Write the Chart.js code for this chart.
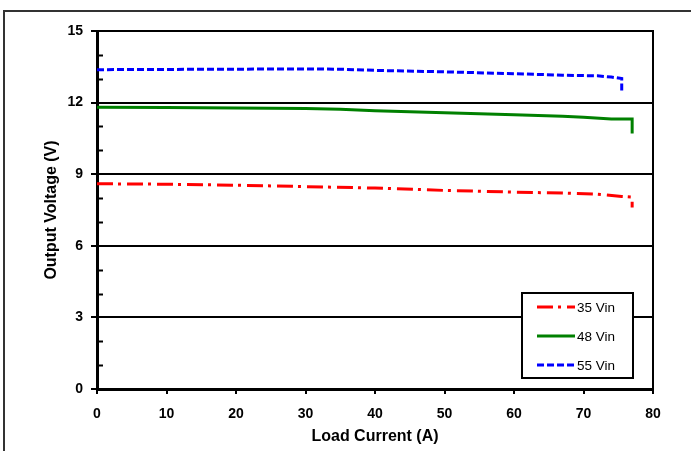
<!DOCTYPE html>
<html>
<head>
<meta charset="utf-8">
<script src="https://cdn.jsdelivr.net/npm/chart.js@4.4.1/dist/chart.umd.min.js"></script>
<style>
  html, body { margin: 0; padding: 0; background: #fff; }
  canvas { display: block; }
</style>
</head>
<body>
<canvas id="vout" width="691" height="451"></canvas>
<script>
// Output voltage vs load current, one curve per input voltage
const seriesNames = ['35 Vin', '48 Vin', '55 Vin'];

const loadA_35 = [0, 10, 20, 30, 40, 50, 60, 67, 72, 75.5, 77, 77];
const vout_35  = [8.60, 8.58, 8.54, 8.48, 8.42, 8.32, 8.25, 8.21, 8.16, 8.07, 8.04, 7.60];

const loadA_48 = [0, 10, 20, 30, 35, 40, 50, 60, 67, 70, 74, 77, 77];
const vout_48  = [11.80, 11.79, 11.77, 11.75, 11.72, 11.66, 11.57, 11.49, 11.43, 11.39, 11.31, 11.31, 10.71];

const loadA_55 = [0, 10, 20, 30, 35, 40, 50, 60, 67, 72, 74, 75.5, 75.5];
const vout_55  = [13.38, 13.39, 13.40, 13.41, 13.40, 13.35, 13.29, 13.21, 13.15, 13.12, 13.07, 13.01, 12.45];

const xTicks = [0, 10, 20, 30, 40, 50, 60, 70, 80];
const yMajor = [0, 3, 6, 9, 12, 15];

function toPoints(xs, ys) {
    return xs.map((x, i) => ({ x: x, y: ys[i] }));
}

// outer frame of the figure
const framePlugin = {
    id: 'frame',
    beforeDraw(chart) {
        const ctx = chart.ctx;
        ctx.save();
        ctx.fillStyle = '#fff';
        ctx.fillRect(0, 0, chart.width, chart.height);
        ctx.strokeStyle = '#333';
        ctx.lineWidth = 2;
        ctx.beginPath();
        ctx.moveTo(4, chart.height);
        ctx.lineTo(4, 11);
        ctx.lineTo(chart.width, 11);
        ctx.stroke();
        ctx.restore();
    }
};

// minor ticks pointing into the plot, right border, and the boxed legend
const extrasPlugin = {
    id: 'extras',
    afterDraw(chart) {
        const ctx = chart.ctx;
        const area = chart.chartArea;
        const y = chart.scales.y;
        ctx.save();

        ctx.strokeStyle = '#000';
        ctx.lineWidth = 2;
        for (let v = y.min; v <= y.max; v++) {
            if (yMajor.includes(v)) continue;
            const py = Math.round(y.getPixelForValue(v)) + 0.5;
            ctx.beginPath();
            ctx.moveTo(area.left, py);
            ctx.lineTo(area.left + 6, py);
            ctx.stroke();
        }

        ctx.beginPath();
        ctx.moveTo(area.right, area.top - 1);
        ctx.lineTo(area.right, area.bottom);
        ctx.stroke();

        // legend
        const bw = 111, bh = 85;
        const bx = area.right - 20 - bw;
        const by = area.bottom - 11 - bh;
        ctx.fillStyle = '#fff';
        ctx.fillRect(bx, by, bw, bh);
        ctx.strokeStyle = '#000';
        ctx.lineWidth = 2;
        ctx.strokeRect(bx, by, bw, bh);

        ctx.font = '13.5px "Liberation Sans", Arial, sans-serif';
        ctx.textBaseline = 'middle';
        chart.data.datasets.forEach((ds, i) => {
            const ly = by + 14 + i * 29;
            ctx.strokeStyle = ds.borderColor;
            ctx.lineWidth = ds.borderWidth;
            ctx.setLineDash(ds.borderDash || []);
            ctx.beginPath();
            ctx.moveTo(bx + 15, ly);
            ctx.lineTo(bx + 53, ly);
            ctx.stroke();
            ctx.setLineDash([]);
            ctx.fillStyle = '#000';
            ctx.fillText(ds.label, bx + 55, ly + 1);
        });
        ctx.restore();
    }
};

const ctx = document.getElementById('vout').getContext('2d');
new Chart(ctx, {
    type: 'scatter',
    data: {
        datasets: [
            {
                label: seriesNames[0],
                data: toPoints(loadA_35, vout_35),
                borderColor: '#ff0000',
                borderWidth: 3,
                borderDash: [16, 5, 3, 6]
            },
            {
                label: seriesNames[1],
                data: toPoints(loadA_48, vout_48),
                borderColor: '#008000',
                borderWidth: 3
            },
            {
                label: seriesNames[2],
                data: toPoints(loadA_55, vout_55),
                borderColor: '#0000ff',
                borderWidth: 3,
                borderDash: [7, 3]
            }
        ]
    },
    options: {
        responsive: false,
        animation: false,
        showLine: true,
        elements: {
            point: { radius: 0, hoverRadius: 0 },
            line: { tension: 0, fill: false, borderCapStyle: 'butt' }
        },
        layout: { padding: { top: 31, right: 38, bottom: 0, left: 0 } },
        plugins: {
            legend: { display: false },
            tooltip: { enabled: false }
        },
        scales: {
            x: {
                type: 'linear',
                min: 0,
                max: 80,
                afterBuildTicks: s => { s.ticks = xTicks.map(v => ({ value: v })); },
                afterFit: s => { s.height = 62; },
                ticks: {
                    color: '#000',
                    padding: 12,
                    font: { family: '"Liberation Sans", Arial, sans-serif', size: 14, weight: 'bold' }
                },
                grid: {
                    drawOnChartArea: false,
                    color: '#000',
                    lineWidth: 2,
                    tickLength: 5
                },
                border: { color: '#000', width: 3 },
                title: {
                    display: true,
                    text: 'Load Current (A)',
                    color: '#000',
                    padding: { top: 0, bottom: 5 },
                    font: { family: '"Liberation Sans", Arial, sans-serif', size: 16, weight: 'bold' }
                }
            },
            y: {
                min: 0,
                max: 15,
                afterFit: s => { s.width = 97; },
                ticks: {
                    stepSize: 1,
                    autoSkip: false,
                    color: '#000',
                    padding: 8,
                    callback: v => (yMajor.includes(v) ? v : ''),
                    font: { family: '"Liberation Sans", Arial, sans-serif', size: 14, weight: 'bold' }
                },
                grid: {
                    color: c => (yMajor.includes(c.tick.value) ? '#000' : 'rgba(0,0,0,0)'),
                    lineWidth: 2,
                    tickLength: 6
                },
                border: { color: '#000', width: 3 },
                title: {
                    display: true,
                    text: 'Output Voltage (V)',
                    color: '#000',
                    padding: { top: 42, bottom: 0 },
                    font: { family: '"Liberation Sans", Arial, sans-serif', size: 16, weight: 'bold' }
                }
            }
        }
    },
    plugins: [framePlugin, extrasPlugin]
});
</script>
</body>
</html>
